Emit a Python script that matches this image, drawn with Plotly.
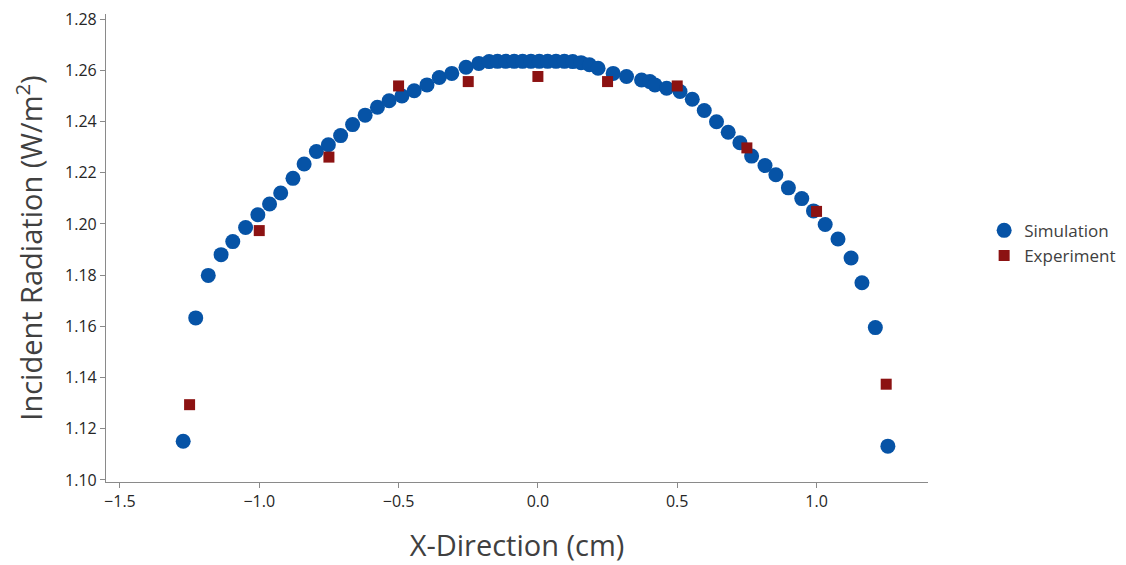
import plotly.graph_objects as go

sim_x = [-1.273, -1.228, -1.183, -1.137, -1.095, -1.049, -1.005, -0.963, -0.923, -0.879,
         -0.839, -0.795, -0.752, -0.708, -0.665, -0.620, -0.576, -0.534, -0.488, -0.444,
         -0.398, -0.354, -0.309, -0.258, -0.212,
         -0.175, -0.145, -0.115, -0.085, -0.055, -0.025, 0.005, 0.035, 0.065, 0.095, 0.125, 0.155,
         0.185, 0.216, 0.270, 0.318, 0.372, 0.402, 0.420, 0.462, 0.510, 0.554,
         0.597, 0.641, 0.683, 0.725, 0.767, 0.815, 0.854, 0.899, 0.947, 0.989,
         1.031, 1.077, 1.124, 1.163, 1.211, 1.256]
sim_y = [1.1151, 1.1633, 1.1799, 1.1880, 1.1931, 1.1986, 1.2036, 1.2078, 1.2121, 1.2178,
         1.2234, 1.2283, 1.2309, 1.2345, 1.2388, 1.2425, 1.2456, 1.2481, 1.2500, 1.2520,
         1.2543, 1.2572, 1.2588, 1.2612, 1.2627,
         1.2634, 1.2635, 1.2635, 1.2635, 1.2635, 1.2635, 1.2635, 1.2635, 1.2635, 1.2635, 1.2634, 1.2630,
         1.2622, 1.2608, 1.2588, 1.2576, 1.2562, 1.2556, 1.2543, 1.2530, 1.2517, 1.2487,
         1.2443, 1.2399, 1.2358, 1.2317, 1.2265, 1.2228, 1.2192, 1.2141, 1.2099, 1.2051,
         1.1998, 1.1941, 1.1867, 1.1770, 1.1595, 1.1132]

exp_x = [-1.25, -1.0, -0.75, -0.5, -0.25, 0.0, 0.25, 0.5, 0.75, 1.0, 1.25]
exp_y = [1.1294, 1.1974, 1.2261, 1.2539, 1.2556, 1.2576, 1.2556, 1.2539, 1.2297, 1.2049, 1.1374]

x_ticks = [-1.5, -1.0, -0.5, 0.0, 0.5, 1.0]
y_ticks = [1.10, 1.12, 1.14, 1.16, 1.18, 1.20, 1.22, 1.24, 1.26, 1.28]

font_family = "Open Sans, Noto Sans, sans-serif"

fig = go.Figure()
fig.add_trace(go.Scatter(x=sim_x, y=sim_y, mode="markers", name="Simulation",
                         marker=dict(symbol="circle", size=15, color="#0653A6")))
fig.add_trace(go.Scatter(x=exp_x, y=exp_y, mode="markers", name="Experiment",
                         marker=dict(symbol="square", size=11, color="#8C1212")))

axis_common = dict(showgrid=False, zeroline=False, showline=True, linecolor="#8a8a8a",
                   linewidth=1.2, ticks="outside", ticklen=5, tickcolor="#8a8a8a",
                   automargin=False, ticklabeloverflow="allow",
                   tickfont=dict(size=16, color="#262626", family=font_family))

fig.update_layout(
    width=1118, height=557,
    margin=dict(l=98, r=197, t=6, b=83),
    paper_bgcolor="white", plot_bgcolor="white",
    font=dict(family=font_family),
    xaxis=dict(range=[-1.55, 1.40], tickvals=x_ticks, tickformat=".1f",
               title=dict(text="X-Direction (cm)", font=dict(size=29, color="#404040"), standoff=24),
               **axis_common),
    yaxis=dict(range=[1.0992, 1.2820], tickvals=y_ticks, tickformat=".2f",
               title=dict(text="Incident Radiation (W/m<sup>2</sup>)", font=dict(size=29, color="#404040"), standoff=16),
               **axis_common),
    legend=dict(x=1.067, y=0.51, xanchor="left", yanchor="middle",
                font=dict(size=17, color="#404040", family=font_family),
                bgcolor="rgba(0,0,0,0)", itemsizing="trace", tracegroupgap=0),
)

fig.write_html("out.html")
